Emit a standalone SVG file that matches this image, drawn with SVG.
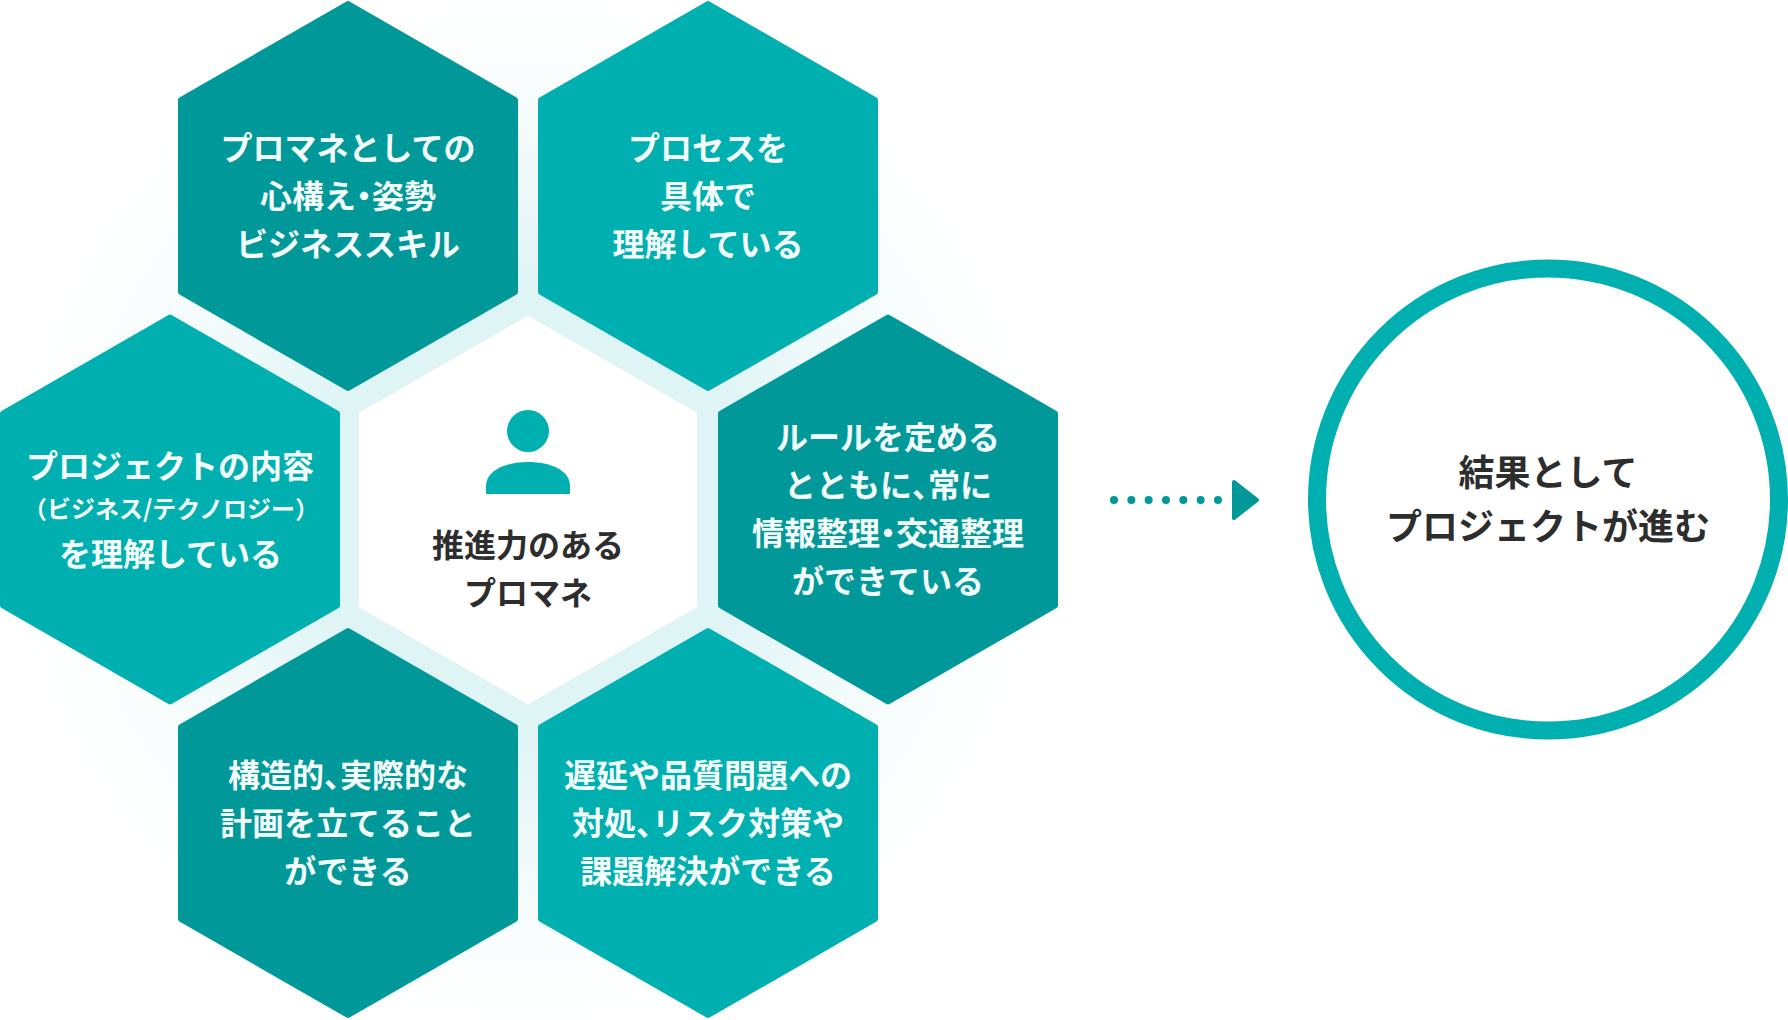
<svg xmlns="http://www.w3.org/2000/svg" width="1788" height="1020" viewBox="0 0 1788 1020">
<style>
text{font-family:"Noto Sans CJK JP","Noto Sans",sans-serif;font-weight:700;text-anchor:middle;}
tspan{font-feature-settings:"halt";}
.t{font-size:32px;fill:#f4fdfd}
.s{font-size:24px;fill:#f4fdfd}
.k{font-size:32px;fill:#2d2d2d}
.b{font-size:36px;fill:#2d2d2d}
.d{fill:#009898}.l{fill:#00afaf}
.hex{stroke-width:6;stroke-linejoin:round}
.d.hex{stroke:#009898}.l.hex{stroke:#00afaf}
</style>
<defs>
<radialGradient id="glow" gradientUnits="userSpaceOnUse" cx="528" cy="510" r="520">
<stop offset="0" stop-color="#dff4f5"/><stop offset="0.42" stop-color="#dff4f5"/><stop offset="0.62" stop-color="#eef9fa"/><stop offset="0.82" stop-color="#f9fdfd"/><stop offset="1" stop-color="#ffffff"/>
</radialGradient>
<polygon id="h" points="0,-192 167,-96 167,96 0,192 -167,96 -167,-96"/>
</defs>
<rect width="1788" height="1020" fill="#fff"/>
<circle cx="528" cy="510" r="520" fill="url(#glow)"/>
<g id="hex-center"><use href="#h" x="528" y="510" fill="#fff" stroke="#fff" stroke-width="4" stroke-linejoin="round"/>
<circle cx="528" cy="431" r="21" class="l"/>
<path class="l" d="M486 494V486C486 470 506 462 528 462S570 470 570 486V494Z"/>
<text class="k" x="528" y="557">推進力のある</text><text class="k" x="528" y="605">プロマネ</text></g>
<g id="hex-mindset"><use href="#h" x="348" y="196" class="d hex"/><text class="t" x="348" y="160">プロマネとしての</text><text class="t" x="348" y="208">心構え<tspan>・</tspan>姿勢</text><text class="t" x="348" y="256">ビジネススキル</text></g>
<g id="hex-process"><use href="#h" x="708" y="196" class="l hex"/><text class="t" x="708" y="160">プロセスを</text><text class="t" x="708" y="208">具体で</text><text class="t" x="708" y="256">理解している</text></g>
<g id="hex-project"><use href="#h" x="170" y="509.5" class="l hex"/><text class="t" x="170" y="478">プロジェクトの内容</text><text class="s" x="171" y="518">（ビジネス/テクノロジー）</text><text class="t" x="170.5" y="566">を理解している</text></g>
<g id="hex-rules"><use href="#h" x="888" y="509.5" class="d hex"/><text class="t" x="888" y="449">ルールを定める</text><text class="t" x="888" y="497">とともに<tspan>、</tspan>常に</text><text class="t" x="888" y="545">情報整理<tspan>・</tspan>交通整理</text><text class="t" x="888" y="593">ができている</text></g>
<g id="hex-plan"><use href="#h" x="348" y="823" class="d hex"/><text class="t" x="348" y="787">構造的<tspan>、</tspan>実際的な</text><text class="t" x="348" y="835">計画を立てること</text><text class="t" x="348" y="883">ができる</text></g>
<g id="hex-issue"><use href="#h" x="708" y="823" class="l hex"/><text class="t" x="708" y="787">遅延や品質問題への</text><text class="t" x="708" y="835">対処<tspan>、</tspan>リスク対策や</text><text class="t" x="708" y="883">課題解決ができる</text></g>
<g id="connectors">
<path d="M1114 500H1219" fill="none" stroke="#009898" stroke-width="8" stroke-linecap="round" stroke-dasharray="0 17.33"/>
<path class="d" stroke="#009898" stroke-width="4" stroke-linejoin="round" d="M1234 482L1257 500L1234 518Z"/>
</g>
<g id="result"><circle cx="1548" cy="499.5" r="231" fill="#fff" stroke="#00afaf" stroke-width="18"/>
<text class="b" x="1548" y="486">結果として</text><text class="b" x="1548" y="540">プロジェクトが進む</text></g>
</svg>
